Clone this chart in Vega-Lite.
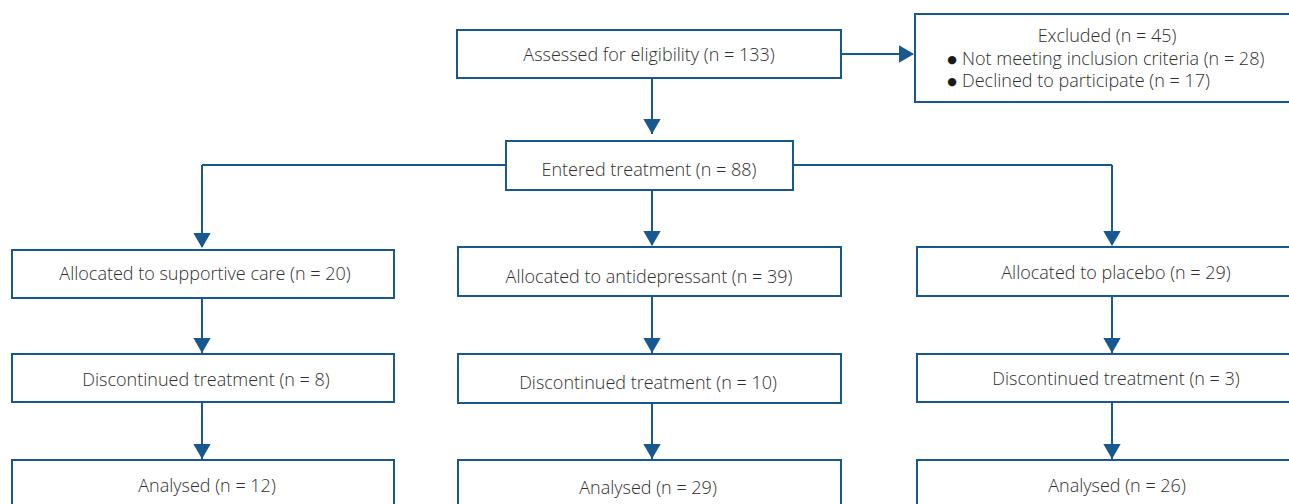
{
  "$schema": "https://vega.github.io/schema/vega-lite/v6.json",
  "autosize": {"type": "fit", "contains": "padding"},
  "width": 1289,
  "height": 504,
  "padding": 0,
  "background": "white",
  "config": {"view": {"stroke": null}},
  "datasets": {
    "boxes": [
      {"id": "assessed", "x1": 457, "x2": 841, "y1": 30, "y2": 78},
      {"id": "excluded", "x1": 915, "x2": 1310, "y1": 14, "y2": 102},
      {"id": "entered", "x1": 506, "x2": 793, "y1": 141, "y2": 190},
      {"id": "alloc_sc", "x1": 12, "x2": 394, "y1": 250, "y2": 298},
      {"id": "alloc_ad", "x1": 458, "x2": 841, "y1": 247, "y2": 296},
      {"id": "alloc_pl", "x1": 917, "x2": 1315, "y1": 247, "y2": 296},
      {"id": "disc_sc", "x1": 12, "x2": 394, "y1": 354, "y2": 402},
      {"id": "disc_ad", "x1": 458, "x2": 841, "y1": 354, "y2": 403},
      {"id": "disc_pl", "x1": 917, "x2": 1315, "y1": 354, "y2": 402},
      {"id": "an_sc", "x1": 12, "x2": 394, "y1": 460, "y2": 520},
      {"id": "an_ad", "x1": 458, "x2": 841, "y1": 460, "y2": 520},
      {"id": "an_pl", "x1": 917, "x2": 1315, "y1": 460, "y2": 520}
    ],
    "lines": [
      {"x1": 652, "y1": 78, "x2": 652, "y2": 134},
      {"x1": 841, "y1": 54, "x2": 913, "y2": 54},
      {"x1": 506, "y1": 165, "x2": 202, "y2": 165},
      {"x1": 202, "y1": 165, "x2": 202, "y2": 247},
      {"x1": 793, "y1": 165, "x2": 1112, "y2": 165},
      {"x1": 1112, "y1": 165, "x2": 1112, "y2": 245},
      {"x1": 652, "y1": 190, "x2": 652, "y2": 245},
      {"x1": 202, "y1": 298, "x2": 202, "y2": 353},
      {"x1": 652, "y1": 296, "x2": 652, "y2": 353},
      {"x1": 1112, "y1": 296, "x2": 1112, "y2": 353},
      {"x1": 202, "y1": 402, "x2": 202, "y2": 460},
      {"x1": 652, "y1": 403, "x2": 652, "y2": 460},
      {"x1": 1112, "y1": 402, "x2": 1112, "y2": 460}
    ],
    "headsDown": [
      {"x": 652, "y": 134},
      {"x": 202, "y": 248},
      {"x": 652, "y": 246},
      {"x": 1112, "y": 246},
      {"x": 202, "y": 353},
      {"x": 652, "y": 353},
      {"x": 1112, "y": 353},
      {"x": 202, "y": 459},
      {"x": 652, "y": 459},
      {"x": 1112, "y": 459}
    ],
    "headsRight": [
      {"x": 914, "y": 54}
    ],
    "labels": [
      {"x": 649, "y": 56, "text": "Assessed for eligibility (n = 133)", "align": "center"},
      {"x": 1107, "y": 37, "text": "Excluded (n = 45)", "align": "center"},
      {"x": 962, "y": 60, "text": "Not meeting inclusion criteria (n = 28)", "align": "left"},
      {"x": 962, "y": 82, "text": "Declined to participate (n = 17)", "align": "left"},
      {"x": 649, "y": 171, "text": "Entered treatment (n = 88)", "align": "center"},
      {"x": 205, "y": 275, "text": "Allocated to supportive care (n = 20)", "align": "center"},
      {"x": 649, "y": 278, "text": "Allocated to antidepressant (n = 39)", "align": "center"},
      {"x": 1116, "y": 274, "text": "Allocated to placebo (n = 29)", "align": "center"},
      {"x": 206, "y": 381, "text": "Discontinued treatment (n = 8)", "align": "center"},
      {"x": 648, "y": 384, "text": "Discontinued treatment (n = 10)", "align": "center"},
      {"x": 1116, "y": 380, "text": "Discontinued treatment (n = 3)", "align": "center"},
      {"x": 207, "y": 487, "text": "Analysed (n = 12)", "align": "center"},
      {"x": 648, "y": 489, "text": "Analysed (n = 29)", "align": "center"},
      {"x": 1117, "y": 487, "text": "Analysed (n = 26)", "align": "center"}
    ],
    "bullets": [
      {"x": 952, "y": 60, "text": "●"},
      {"x": 952, "y": 82, "text": "●"}
    ]
  },
  "layer": [
    {
      "data": {"name": "lines"},
      "mark": {"type": "rule", "color": "#16588f", "strokeWidth": 2, "clip": true},
      "encoding": {
        "x": {"field": "x1", "type": "quantitative", "scale": {"domain": [0, 1289], "nice": false, "zero": false}, "axis": null},
        "x2": {"field": "x2"},
        "y": {"field": "y1", "type": "quantitative", "scale": {"domain": [0, 504], "nice": false, "zero": false, "reverse": true}, "axis": null},
        "y2": {"field": "y2"}
      }
    },
    {
      "data": {"name": "boxes"},
      "mark": {"type": "rect", "fill": "white", "stroke": "#16588f", "strokeWidth": 2, "clip": true},
      "encoding": {
        "x": {"field": "x1", "type": "quantitative", "scale": {"domain": [0, 1289], "nice": false, "zero": false}, "axis": null},
        "x2": {"field": "x2"},
        "y": {"field": "y1", "type": "quantitative", "scale": {"domain": [0, 504], "nice": false, "zero": false, "reverse": true}, "axis": null},
        "y2": {"field": "y2"}
      }
    },
    {
      "data": {"name": "headsDown"},
      "mark": {"type": "point", "shape": "triangle-down", "filled": true, "color": "#16588f", "opacity": 1, "size": 300, "yOffset": -7.5, "strokeWidth": 0},
      "encoding": {
        "x": {"field": "x", "type": "quantitative", "scale": {"domain": [0, 1289], "nice": false, "zero": false}, "axis": null},
        "y": {"field": "y", "type": "quantitative", "scale": {"domain": [0, 504], "nice": false, "zero": false, "reverse": true}, "axis": null}
      }
    },
    {
      "data": {"name": "headsRight"},
      "mark": {"type": "point", "shape": "triangle-right", "filled": true, "color": "#16588f", "opacity": 1, "size": 300, "xOffset": -7.5, "strokeWidth": 0},
      "encoding": {
        "x": {"field": "x", "type": "quantitative", "scale": {"domain": [0, 1289], "nice": false, "zero": false}, "axis": null},
        "y": {"field": "y", "type": "quantitative", "scale": {"domain": [0, 504], "nice": false, "zero": false, "reverse": true}, "axis": null}
      }
    },
    {
      "data": {"name": "labels"},
      "transform": [{"filter": "datum.align == 'center'"}],
      "mark": {"type": "text", "font": "Open Sans", "fontWeight": 300, "fontSize": 18, "color": "#2e2e2e", "baseline": "middle", "align": "center"},
      "encoding": {
        "x": {"field": "x", "type": "quantitative", "scale": {"domain": [0, 1289], "nice": false, "zero": false}, "axis": null},
        "y": {"field": "y", "type": "quantitative", "scale": {"domain": [0, 504], "nice": false, "zero": false, "reverse": true}, "axis": null},
        "text": {"field": "text"}
      }
    },
    {
      "data": {"name": "labels"},
      "transform": [{"filter": "datum.align == 'left'"}],
      "mark": {"type": "text", "font": "Open Sans", "fontWeight": 300, "fontSize": 18, "color": "#2e2e2e", "baseline": "middle", "align": "left"},
      "encoding": {
        "x": {"field": "x", "type": "quantitative", "scale": {"domain": [0, 1289], "nice": false, "zero": false}, "axis": null},
        "y": {"field": "y", "type": "quantitative", "scale": {"domain": [0, 504], "nice": false, "zero": false, "reverse": true}, "axis": null},
        "text": {"field": "text"}
      }
    },
    {
      "data": {"name": "bullets"},
      "mark": {"type": "text", "font": "DejaVu Sans", "fontSize": 11, "color": "#1a1a1a", "baseline": "middle", "align": "center"},
      "encoding": {
        "x": {"field": "x", "type": "quantitative", "scale": {"domain": [0, 1289], "nice": false, "zero": false}, "axis": null},
        "y": {"field": "y", "type": "quantitative", "scale": {"domain": [0, 504], "nice": false, "zero": false, "reverse": true}, "axis": null},
        "text": {"field": "text"}
      }
    }
  ]
}
